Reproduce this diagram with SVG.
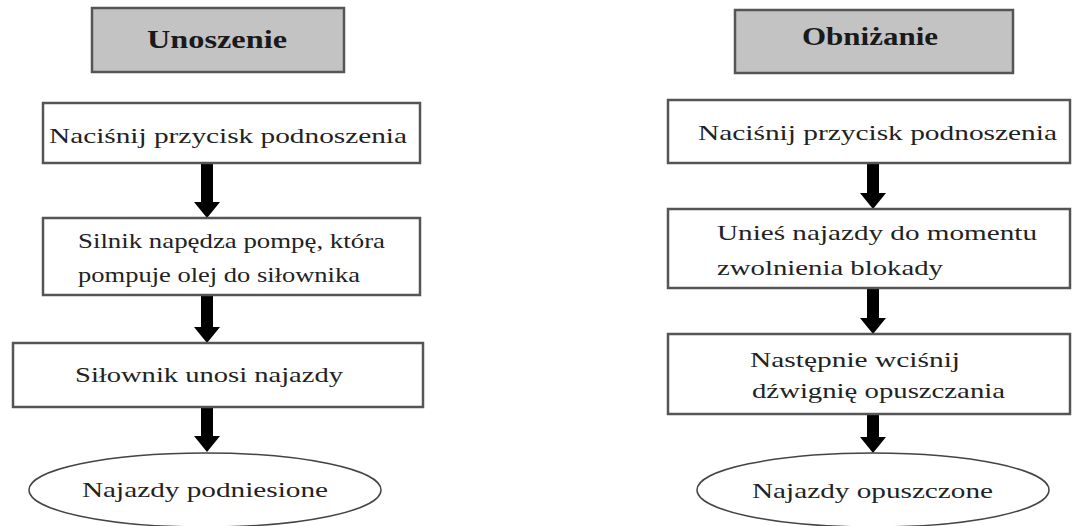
<svg xmlns="http://www.w3.org/2000/svg" width="1072" height="526" viewBox="0 0 1072 526">
<style>
.title{fill:#c3c3c3;stroke:#555;stroke-width:2.5}
.box{fill:#fff;stroke:#555;stroke-width:2.5}
.ell{fill:#fff;stroke:#444;stroke-width:1.5}
.t{font-size:22px;fill:#222}
.tb{font-size:25px;font-weight:bold;fill:#1a1a1a}
.arr{fill:#000}
</style>
<rect width="1072" height="526" fill="#fff"/>
<g id="connectors">
<polygon class="arr" points="201,163 213,163 213,202 220,202 207,218 194,202 201,202"/>
<polygon class="arr" points="201,295 213,295 213,327 220,327 207,343 194,327 201,327"/>
<polygon class="arr" points="201,407 213,407 213,436 220,436 207,452 194,436 201,436"/>
<polygon class="arr" points="867,163 879,163 879,193 886,193 873,209 860,193 867,193"/>
<polygon class="arr" points="867,288 879,288 879,318 886,318 873,334 860,318 867,318"/>
<polygon class="arr" points="867,414 879,414 879,437 886,437 873,453 860,437 867,437"/>
</g>
<g font-family="Liberation Serif, serif">
<g id="left-title">
<rect class="title" x="92" y="8" width="252" height="64"/>
<text class="tb" x="147" y="48" textLength="140" lengthAdjust="spacingAndGlyphs">Unoszenie</text>
</g>
<g id="left-step1">
<rect class="box" x="43" y="103" width="377" height="60"/>
<text class="t" x="49" y="143" textLength="358" lengthAdjust="spacingAndGlyphs">Naciśnij przycisk podnoszenia</text>
</g>
<g id="left-step2">
<rect class="box" x="43" y="218" width="377" height="77"/>
<text class="t" x="78" y="248" textLength="307" lengthAdjust="spacingAndGlyphs">Silnik napędza pompę, która</text>
<text class="t" x="78" y="282" textLength="282" lengthAdjust="spacingAndGlyphs">pompuje olej do siłownika</text>
</g>
<g id="left-step3">
<rect class="box" x="13" y="343" width="410" height="64"/>
<text class="t" x="75" y="382" textLength="268" lengthAdjust="spacingAndGlyphs">Siłownik unosi najazdy</text>
</g>
<g id="left-end">
<ellipse class="ell" cx="205" cy="490" rx="176" ry="37"/>
<text class="t" x="82" y="497" textLength="246" lengthAdjust="spacingAndGlyphs">Najazdy podniesione</text>
</g>
<g id="right-title">
<rect class="title" x="735" y="10" width="278" height="63"/>
<text class="tb" x="802" y="45" textLength="136" lengthAdjust="spacingAndGlyphs">Obniżanie</text>
</g>
<g id="right-step1">
<rect class="box" x="668" y="100" width="402" height="63"/>
<text class="t" x="698" y="140" textLength="359" lengthAdjust="spacingAndGlyphs">Naciśnij przycisk podnoszenia</text>
</g>
<g id="right-step2">
<rect class="box" x="668" y="209" width="402" height="79"/>
<text class="t" x="717" y="240" textLength="320" lengthAdjust="spacingAndGlyphs">Unieś najazdy do momentu</text>
<text class="t" x="717" y="275" textLength="226" lengthAdjust="spacingAndGlyphs">zwolnienia blokady</text>
</g>
<g id="right-step3">
<rect class="box" x="668" y="334" width="402" height="80"/>
<text class="t" x="750" y="367" textLength="210" lengthAdjust="spacingAndGlyphs">Następnie wciśnij</text>
<text class="t" x="752" y="398" textLength="253" lengthAdjust="spacingAndGlyphs">dźwignię opuszczania</text>
</g>
<g id="right-end">
<ellipse class="ell" cx="873" cy="490" rx="176" ry="37"/>
<text class="t" x="752" y="498" textLength="241" lengthAdjust="spacingAndGlyphs">Najazdy opuszczone</text>
</g>
</g>
</svg>
